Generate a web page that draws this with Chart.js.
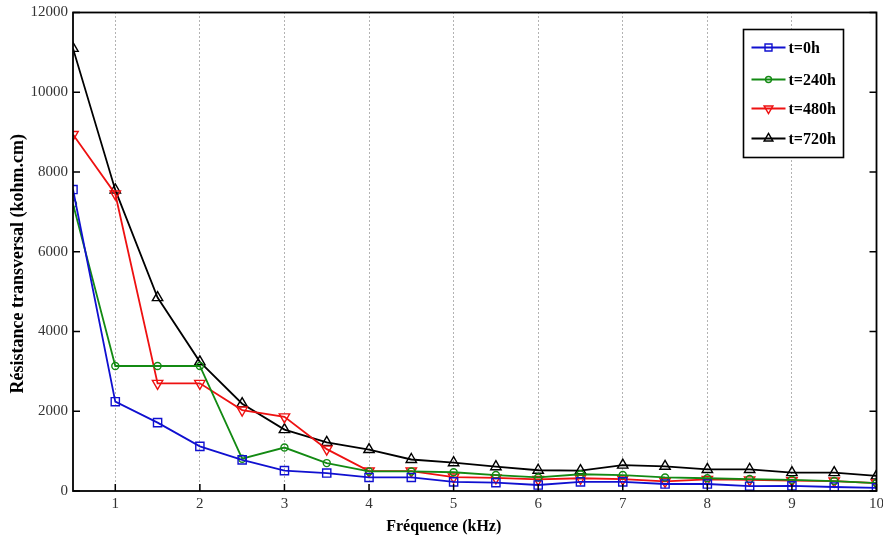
<!DOCTYPE html>
<html>
<head>
<meta charset="utf-8">
<script src="https://cdn.jsdelivr.net/npm/chart.js@4.4.1/dist/chart.umd.min.js"></script>
<style>
  html, body { margin: 0; padding: 0; background: #fff; overflow: hidden; }
  #wrap { width: 890px; height: 538px; }
</style>
</head>
<body>
<div id="wrap"><canvas id="chart"></canvas></div>
<script>
// Frequencies (kHz) and tick values
const freq = [0.5, 1, 1.5, 2, 2.5, 3, 3.5, 4, 4.5, 5, 5.5, 6, 6.5, 7, 7.5, 8, 8.5, 9, 9.5, 10];
const xTicks = [1, 2, 3, 4, 5, 6, 7, 8, 9, 10];
const yTicks = [0, 2000, 4000, 6000, 8000, 10000, 12000];

// Transverse resistance (kohm.cm) per ageing time
const t0h   = [7560, 2240, 1715, 1120, 780, 510, 450, 340, 340, 230, 210, 150, 230, 230, 175, 175, 120, 130, 100, 80];
const t240h = [7200, 3135, 3135, 3135, 810, 1090, 700, 490, 490, 470, 400, 340, 420, 400, 340, 320, 300, 280, 250, 200];
const t480h = [8940, 7450, 2700, 2700, 2030, 1860, 1050, 500, 500, 350, 330, 290, 320, 300, 240, 290, 280, 260, 250, 200];
const t720h = [11100, 7550, 4850, 3240, 2190, 1540, 1220, 1040, 790, 710, 610, 520, 510, 650, 620, 540, 540, 460, 460, 380];

const seriesNames = ['t=0h', 't=240h', 't=480h', 't=720h'];
const xTitle = 'Fréquence (kHz)';
const yTitle = 'Résistance transversal (kohm.cm)';

const styles = [
    { color: '#1010d0', point: 'rect', radius: 5.8, rotation: 0 },
    { color: '#138a13', point: 'circle', radius: 3.5, rotation: 0 },
    { color: '#ee1111', point: 'triangle', radius: 6, rotation: 180 },
    { color: '#000000', point: 'triangle', radius: 6, rotation: 0 }
];

const toPoints = arr => freq.map((f, i) => ({ x: f, y: arr[i] }));
const allSeries = [t0h, t240h, t480h, t720h];

const datasets = allSeries.map((s, i) => ({
    label: seriesNames[i],
    data: toPoints(s),
    borderColor: styles[i].color,
    backgroundColor: 'rgba(0,0,0,0)',
    borderWidth: 1.8,
    pointStyle: styles[i].point,
    pointRadius: styles[i].radius,
    pointRotation: styles[i].rotation,
    pointBorderWidth: 1.4,
    pointBorderColor: styles[i].color,
    pointBackgroundColor: 'rgba(0,0,0,0)',
    tension: 0
}));

// small marker helper for the legend box
function marker(ctx, kind, x, y, r, rot) {
    ctx.beginPath();
    if (kind === 'rect') {
        const h = r * Math.SQRT1_2;
        ctx.rect(x - h, y - h, 2 * h, 2 * h);
    } else if (kind === 'circle') {
        ctx.arc(x, y, r, 0, Math.PI * 2);
    } else {
        let a = rot * Math.PI / 180;
        ctx.moveTo(x + Math.sin(a) * r, y - Math.cos(a) * r);
        a += Math.PI * 2 / 3;
        ctx.lineTo(x + Math.sin(a) * r, y - Math.cos(a) * r);
        a += Math.PI * 2 / 3;
        ctx.lineTo(x + Math.sin(a) * r, y - Math.cos(a) * r);
        ctx.closePath();
    }
    ctx.stroke();
}

const framePlugin = {
    id: 'frame',
    afterDatasetsDraw(chart) {
        const ctx = chart.ctx;
        const ca = chart.chartArea;
        const xs = chart.scales.x, ys = chart.scales.y;
        ctx.save();
        ctx.strokeStyle = '#000';
        ctx.lineWidth = 1.8;
        ctx.strokeRect(ca.left, ca.top, ca.right - ca.left, ca.bottom - ca.top);
        // inward ticks
        ctx.lineWidth = 1.5;
        ctx.beginPath();
        yTicks.forEach(v => {
            const py = ys.getPixelForValue(v);
            ctx.moveTo(ca.left, py); ctx.lineTo(ca.left + 7, py);
            ctx.moveTo(ca.right, py); ctx.lineTo(ca.right - 7, py);
        });
        xTicks.forEach(v => {
            const px = xs.getPixelForValue(v);
            ctx.moveTo(px, ca.bottom); ctx.lineTo(px, ca.bottom - 7);
        });
        ctx.stroke();

        // legend box
        const bx = ca.right - 133, by = ca.top + 17, bw = 100, bh = 128;
        ctx.fillStyle = '#fff';
        ctx.fillRect(bx, by, bw, bh);
        ctx.lineWidth = 1.6;
        ctx.strokeStyle = '#000';
        ctx.strokeRect(bx, by, bw, bh);
        const rows = [18, 50, 79, 109];
        ctx.font = 'bold 16px "Liberation Serif"';
        ctx.textBaseline = 'middle';
        ctx.textAlign = 'left';
        seriesNames.forEach((name, i) => {
            const st = styles[i];
            const ry = by + rows[i];
            ctx.strokeStyle = st.color;
            ctx.lineWidth = 1.8;
            ctx.beginPath();
            ctx.moveTo(bx + 8, ry); ctx.lineTo(bx + 42, ry);
            ctx.stroke();
            ctx.lineWidth = 1.4;
            marker(ctx, st.point, bx + 25, ry, st.radius * 0.85, st.rotation);
            ctx.fillStyle = '#000';
            ctx.fillText(name, bx + 45, ry + 1);
        });

        // axis titles
        ctx.fillStyle = '#000';
        ctx.font = 'bold 16px "Liberation Serif"';
        ctx.textAlign = 'center';
        ctx.textBaseline = 'middle';
        ctx.fillText(xTitle, (ca.left + ca.right) / 2 - 31, 527);
        ctx.translate(18, (ca.top + ca.bottom) / 2 + 12);
        ctx.rotate(-Math.PI / 2);
        ctx.font = 'bold 18px "Liberation Serif"';
        ctx.fillText(yTitle, 0, 0);
        ctx.restore();
    }
};

const tickFont = { family: '"Liberation Serif"', size: 15, lineHeight: 1.0 };

const ctx = document.getElementById('chart').getContext('2d');
const chart = new Chart(ctx, {
    type: 'line',
    data: { datasets: datasets },
    options: {
        responsive: true,
        maintainAspectRatio: false,
        animation: false,
        layout: { padding: { top: 0, right: 0, left: 0, bottom: 0 } },
        plugins: {
            legend: { display: false },
            tooltip: { enabled: false }
        },
        scales: {
            x: {
                type: 'linear',
                min: 0.5,
                max: 10,
                afterBuildTicks: s => { s.ticks = xTicks.map(v => ({ value: v })); },
                afterFit: s => { s.height = 47; },
                ticks: { font: tickFont, color: '#333', padding: 6, maxRotation: 0, autoSkip: false },
                grid: { color: '#666', lineWidth: 1, drawTicks: false },
                border: { display: false, dash: [1, 3] }
            },
            y: {
                min: 0,
                max: 12000,
                afterBuildTicks: s => { s.ticks = yTicks.map(v => ({ value: v })); },
                afterFit: s => { s.width = 73; },
                ticks: { font: tickFont, color: '#333', padding: 5, callback: v => String(v) },
                grid: { display: false, drawTicks: false },
                border: { display: false }
            }
        }
    },
    plugins: [framePlugin]
});
</script>
</body>
</html>
